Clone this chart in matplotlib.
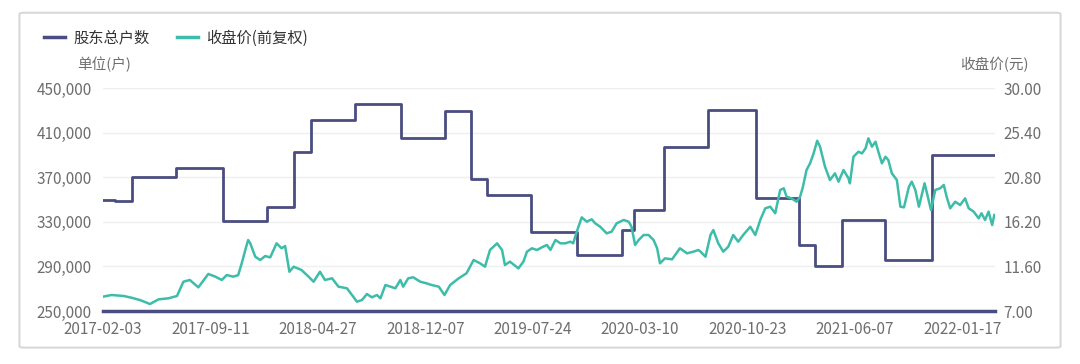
import numpy as np
import matplotlib.pyplot as plt
from matplotlib.patches import FancyBboxPatch

plt.rcParams['font.family'] = ['Noto Sans CJK SC', 'DejaVu Sans']

# x axis: trading-day index, labels every 151 days
tick_days = [0, 151, 302, 453, 604, 755, 906, 1057, 1208]
tick_labels = ['2017-02-03', '2017-09-11', '2018-04-27', '2018-12-07', '2019-07-24',
               '2020-03-10', '2020-10-23', '2021-06-07', '2022-01-17']
last_day = 1254

# shareholders (step line), value valid from this day onward
holder_day = [0, 17, 41, 102, 169, 231, 268, 292, 354, 419, 481, 517, 540, 601, 667,
              729, 747, 789, 850, 918, 979, 1001, 1039, 1100, 1165]
holder_num = [350000, 349000, 370500, 378500, 331000, 343500, 392500, 421000, 435500,
              405500, 429000, 368500, 354000, 321000, 300000, 322500, 341000, 397000,
              430000, 351000, 309000, 290000, 331500, 296000, 390000]

# close price (forward adjusted)
price_day = [0, 12, 29, 40, 52, 66, 78, 92, 104, 113, 122, 134, 148, 158, 167, 174, 183,
             190, 195, 200, 204, 207, 214, 221, 228, 235, 244, 251, 256, 262, 268, 279,
             289, 296, 305, 312, 322, 331, 343, 350, 357, 364, 371, 378, 385, 390, 397,
             404, 411, 418, 422, 429, 436, 446, 455, 462, 472, 480, 488, 500, 511, 521,
             530, 537, 544, 554, 561, 565, 572, 584, 591, 596, 603, 610, 617, 624, 629,
             636, 643, 650, 657, 661, 666, 673, 680, 687, 692, 699, 708, 715, 722, 732,
             739, 743, 748, 753, 760, 767, 774, 779, 783, 790, 800, 811, 821, 830, 837,
             840, 847, 854, 858, 865, 872, 879, 886, 893, 900, 910, 917, 924, 931, 938,
             945, 952, 957, 961, 968, 975, 980, 984, 989, 994, 999, 1004, 1008, 1015,
             1022, 1029, 1034, 1041, 1048, 1050, 1055, 1062, 1067, 1072, 1076, 1081,
             1086, 1090, 1095, 1100, 1104, 1109, 1116, 1121, 1126, 1133, 1137, 1142,
             1147, 1151, 1155, 1159, 1164, 1170, 1177, 1182, 1186, 1191, 1198, 1205,
             1212, 1217, 1224, 1231, 1235, 1240, 1245, 1250, 1253]
price_val = [8.48, 8.65, 8.55, 8.37, 8.13, 7.72, 8.2, 8.31, 8.55, 10.02, 10.2, 9.44, 10.82,
             10.54, 10.2, 10.71, 10.54, 10.7, 11.92, 13.29, 14.32, 13.98, 12.6, 12.26,
             12.67, 12.53, 13.98, 13.47, 13.7, 11.05, 11.57, 11.23, 10.54, 10.02, 11.05,
             10.2, 10.37, 9.51, 9.34, 8.65, 7.96, 8.13, 8.75, 8.41, 8.65, 8.31, 9.68,
             9.51, 9.34, 10.2, 9.51, 10.37, 10.48, 10.02, 9.85, 9.68, 9.51, 8.65, 9.68,
             10.37, 10.89, 12.26, 11.92, 11.57, 13.29, 13.98, 13.29, 11.74, 12.09, 11.4,
             12.09, 13.12, 13.47, 13.29, 13.57, 13.81, 13.3, 14.32, 13.98, 13.98, 14.15,
             13.98, 15.18, 16.66, 16.21, 16.46, 16.04, 15.69, 15.01, 15.18, 16.04, 16.39,
             16.21, 15.69, 13.81, 14.32, 14.84, 14.84, 14.32, 13.47, 11.92, 12.43, 12.33,
             13.47, 12.95, 13.12, 13.29, 13.12, 12.6, 14.84, 15.35, 13.98, 13.12, 13.63,
             14.84, 14.15, 14.84, 15.69, 14.84, 16.39, 17.59, 17.76, 17.08, 19.48, 19.66,
             18.79, 18.62, 18.27, 18.79, 19.82, 21.54, 22.23, 23.26, 24.56, 23.95, 21.88,
             20.51, 21.2, 20.34, 21.54, 20.69, 20.17, 22.91, 23.43, 23.26, 23.78, 24.81,
             23.95, 24.46, 23.43, 22.23, 22.91, 22.57, 21.2, 20.51, 17.76, 17.69, 19.82,
             20.34, 19.48, 17.76, 18.96, 20.17, 18.96, 17.42, 19.48, 19.66, 20.0, 18.79,
             17.59, 18.27, 17.93, 18.62, 17.59, 17.25, 16.56, 17.08, 16.39, 17.25, 15.87,
             16.9]

left_ticks = [250000, 290000, 330000, 370000, 410000, 450000]
right_ticks = [7.0, 11.6, 16.2, 20.8, 25.4, 30.0]

navy = '#4a4d7f'
teal = '#3dbda9'
grey_txt = '#6e6e6e'

fig = plt.figure(figsize=(10.8, 3.64), dpi=100)
fig.patch.set_facecolor('white')
card = FancyBboxPatch((0.018, 0.045), 0.964, 0.92, boxstyle='round,pad=0,rounding_size=0.004',
                      transform=fig.transFigure, facecolor='white', edgecolor='#d8d8d8',
                      linewidth=1.5, zorder=-1)
fig.patches.append(card)

ax = fig.add_axes([0.0954, 0.1456, 0.8259, 0.6126])
ax2 = ax.twinx()

hx = holder_day + [last_day]
hy = holder_num + [holder_num[-1]]
ax.step(hx, hy, where='post', color=navy, lw=2, zorder=3)
ax2.plot(price_day, price_val, color=teal, lw=1.8, zorder=2)

ax.set_xlim(0, last_day)
ax.set_ylim(250000, 450000)
ax2.set_ylim(7, 30)
ax.set_yticks(left_ticks)
ax.set_yticklabels([f'{v:,}' for v in left_ticks])
ax2.set_yticks(right_ticks)
ax2.set_yticklabels([f'{v:.2f}' for v in right_ticks])
ax.set_xticks(tick_days)
ax.set_xticklabels(tick_labels)

ax.grid(axis='y', color='#efefef', lw=1)
ax.set_axisbelow(True)
for a in (ax, ax2):
    for s in ('top', 'left', 'right', 'bottom'):
        a.spines[s].set_visible(False)
ax.axhline(250000, color=navy, lw=2.5, zorder=4, clip_on=False)

ax.tick_params(axis='both', length=0, labelsize=11, colors=grey_txt)
ax.tick_params(axis='y', pad=8)
ax.tick_params(axis='x', pad=7)
ax2.tick_params(axis='y', length=0, labelsize=11, colors=grey_txt, pad=6)

fig.text(0.096, 0.822, '单位(户)', ha='center', va='center', fontsize=10.5, color=grey_txt)
fig.text(0.921, 0.822, '收盘价(元)', ha='center', va='center', fontsize=10.5, color=grey_txt)

h1, = ax.plot([], [], color=navy, lw=2.5, label='股东总户数')
h2, = ax.plot([], [], color=teal, lw=2.5, label='收盘价(前复权)')
fig.legend(handles=[h1, h2], loc='center left', bbox_to_anchor=(0.028, 0.895), ncol=2,
           frameon=False, fontsize=11, handlelength=1.4, handletextpad=0.5,
           columnspacing=1.8, labelcolor='#333333')

fig.savefig('out.png', dpi=100)
